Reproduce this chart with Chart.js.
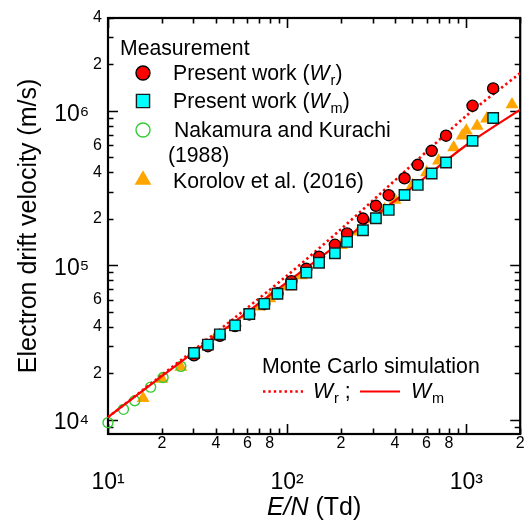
<!DOCTYPE html>
<html><head><meta charset="utf-8">
<script src="https://cdn.jsdelivr.net/npm/chart.js@4"></script>
<style>html,body{margin:0;padding:0;background:#fff}canvas{display:block}</style>
</head><body>
<canvas id="c" width="529" height="527"></canvas>
<script>
// ---- data ----
const presentEN = [30.2, 36.1, 42.1, 51.2, 61.5, 74.5, 88.3, 105.6, 128, 150.7, 184.8, 216, 265, 313, 369, 452, 536, 641, 771, 1084, 1413];
const presentWr = [2.62e4, 3.0e4, 3.5e4, 4.05e4, 4.82e4, 5.62e4, 6.6e4, 7.9e4, 9.5e4, 1.14e5, 1.36e5, 1.61e5, 2.01e5, 2.43e5, 2.85e5, 3.67e5, 4.48e5, 5.52e5, 6.92e5, 1.08e6, 1.4e6];
const presentWm = [2.71e4, 3.07e4, 3.58e4, 4.09e4, 4.85e4, 5.64e4, 6.55e4, 7.53e4, 8.98e4, 1.04e5, 1.2e5, 1.42e5, 1.69e5, 2.02e5, 2.29e5, 2.86e5, 3.32e5, 3.94e5, 4.64e5, 6.41e5, 9.0e5];
const nakamuraEN = [10, 12.2, 14.1, 17.3, 20.3, 25.5];
const nakamuraW = [9.6e3, 1.17e4, 1.33e4, 1.63e4, 1.88e4, 2.22e4];
const korolovEN = [15.7, 20, 25.5, 30.4, 35, 40, 50, 60, 70, 80, 100, 120, 150, 200, 250, 300, 350, 400, 500, 600, 700, 850, 950, 1000, 1150, 1300, 1800];
const korolovW = [1.38e4, 1.84e4, 2.2e4, 2.68e4, 3.05e4, 3.45e4, 4.1e4, 4.8e4, 5.4e4, 6.1e4, 7.3e4, 8.6e4, 1.04e5, 1.35e5, 1.65e5, 1.98e5, 2.3e5, 2.65e5, 3.3e5, 4.0e5, 4.76e5, 5.8e5, 6.9e5, 7.45e5, 8.0e5, 8.9e5, 1.1e6];
const mcEN = [10, 20, 50, 100, 200, 500, 1000, 2000];
const mcWr = [1.04e4, 1.95e4, 4.5e4, 8.6e4, 1.72e5, 4.5e5, 9.3e5, 1.76e6];
const mcWm = [1.04e4, 1.92e4, 4.25e4, 7.8e4, 1.42e5, 3.2e5, 6.0e5, 1.02e6];

// ---- axes / ticks ----
const xMin = 10, xMax = 2000, yMin = 8.1e3, yMax = 4.0e6;
const tickMultipliers = [1, 2, 3, 4, 5, 6, 7, 8, 9];
const xDecades = [10, 100, 1000];
const yDecades = [1e3, 1e4, 1e5, 1e6];
const xLabelMult = [2, 4, 6, 8];
const yLabelMult = [2, 4, 6];

const FONT = "'Liberation Sans', Arial, sans-serif";
const SUP = {'0':'\u2070','1':'\u00B9','2':'\u00B2','3':'\u00B3','4':'\u2074','5':'\u2075','6':'\u2076','7':'\u2077','8':'\u2078','9':'\u2079'};
const isDecade = v => Math.abs(Math.log10(v) - Math.round(Math.log10(v))) < 1e-9;
const mult = v => { const e = Math.floor(Math.log10(v) + 1e-9); return Math.round(v / Math.pow(10, e)); };
const decadeLabel = v => '10' + String(Math.round(Math.log10(v))).split('').map(c => SUP[c]).join('');
function buildTicks(decades, lo, hi) {
  const out = [];
  decades.forEach(d => tickMultipliers.forEach(m => { const v = m * d; if (v >= lo * 0.9999 && v <= hi * 1.0001) out.push(v); }));
  return out;
}
const xTicks = buildTicks(xDecades, xMin, xMax);
const yTicks = buildTicks(yDecades, yMin, yMax);

const pts = (xs, ys) => xs.map((x, i) => ({x, y: ys[i]}));

const RED = '#ff0000', CYAN = '#00ffff', GREEN = '#33cc33', ORANGE = '#ffa500';

const datasets = [
  {label: 'Wm', data: pts(presentEN, presentWm), showLine: false, pointStyle: 'rect', pointRadius: 7.4,
   backgroundColor: CYAN, borderColor: '#1a1a1a', borderWidth: 1.4, order: 1, clip: false},
  {label: 'Wr', data: pts(presentEN, presentWr), showLine: false, pointStyle: 'circle', pointRadius: 5.6,
   backgroundColor: RED, borderColor: '#000', borderWidth: 1.3, order: 2, clip: false},
  {label: 'MC Wm', data: pts(mcEN, mcWm), showLine: true, pointRadius: 0, borderColor: RED, borderWidth: 2.2,
   tension: 0.3, order: 3, fill: false},
  {label: 'MC Wr', data: pts(mcEN, mcWr), showLine: true, pointRadius: 0, borderColor: RED, borderWidth: 2.6,
   borderDash: [2.4, 3], tension: 0.3, order: 4, fill: false},
  {label: 'Nakamura', data: pts(nakamuraEN, nakamuraW), showLine: false, pointStyle: 'circle', pointRadius: 5,
   backgroundColor: 'rgba(0,0,0,0)', borderColor: GREEN, borderWidth: 1.4, order: 5, clip: false},
  {label: 'Korolov', data: pts(korolovEN, korolovW), showLine: false, pointStyle: 'triangle', pointRadius: 7.5,
   backgroundColor: ORANGE, borderColor: ORANGE, borderWidth: 0, order: 6, clip: false}
];

// ---- plugins: frame + inward ticks, legend, x title ----
const framePlugin = {
  id: 'frame',
  beforeDatasetsDraw(chart) {
    const {ctx, chartArea: a, scales: {x, y}} = chart;
    ctx.save();
    ctx.strokeStyle = '#000';
    ctx.lineWidth = 1.6;
    ctx.beginPath();
    x.ticks.forEach(t => {
      const p = Math.round(x.getPixelForValue(t.value)) + 0.5;
      const len = isDecade(t.value) ? 10 : 5.5;
      ctx.moveTo(p, a.bottom); ctx.lineTo(p, a.bottom - len);
      ctx.moveTo(p, a.top); ctx.lineTo(p, a.top + len);
    });
    y.ticks.forEach(t => {
      const p = Math.round(y.getPixelForValue(t.value)) + 0.5;
      const len = isDecade(t.value) ? 10 : 5.5;
      ctx.moveTo(a.left, p); ctx.lineTo(a.left + len, p);
      ctx.moveTo(a.right, p); ctx.lineTo(a.right - len, p);
    });
    ctx.stroke();
    ctx.lineWidth = 2.2;
    ctx.strokeRect(a.left, a.top, a.right - a.left, a.bottom - a.top);
    ctx.restore();
  }
};

function drawRich(ctx, x, y, parts) {
  let cx = x;
  parts.forEach(p => {
    ctx.font = p.font;
    ctx.fillText(p.t, cx, y + (p.dy || 0));
    cx += ctx.measureText(p.t).width + (p.after || 0);
  });
  return cx;
}
function richWidth(ctx, parts) {
  let w = 0;
  parts.forEach(p => { ctx.font = p.font; w += ctx.measureText(p.t).width + (p.after || 0); });
  return w;
}

const LF = 21.2;
const fN = s => `${s}px ${FONT}`;
const fI = s => `italic ${s}px ${FONT}`;

const legendPlugin = {
  id: 'customLegend',
  afterDraw(chart) {
    const {ctx} = chart;
    const H = Chart.helpers;
    const ds = chart.data.datasets;
    ctx.save();
    ctx.fillStyle = '#000';
    ctx.textAlign = 'left';
    ctx.textBaseline = 'alphabetic';
    // measurement legend
    drawRich(ctx, 120, 55, [{t: 'Measurement', font: fN(LF)}]);
    const mk = (d, x, y, r) => {
      ctx.save();
      ctx.fillStyle = d.backgroundColor; ctx.strokeStyle = d.borderColor;
      H.drawPoint(ctx, {pointStyle: d.pointStyle, radius: r, rotation: 0, borderWidth: d.borderWidth}, x, y);
      ctx.restore();
    };
    mk(ds[1], 143, 73, 7);
    ctx.fillStyle = '#000';
    drawRich(ctx, 173, 80, [{t: 'Present work (', font: fN(LF)}, {t: 'W', font: fI(LF), after: 1}, {t: 'r', font: fN(14.5), dy: 5}, {t: ')', font: fN(LF)}]);
    mk(ds[0], 143, 101, 9.3);
    ctx.fillStyle = '#000';
    drawRich(ctx, 173, 108, [{t: 'Present work (', font: fN(LF)}, {t: 'W', font: fI(LF), after: 1}, {t: 'm', font: fN(14.5), dy: 5}, {t: ')', font: fN(LF)}]);
    mk(ds[4], 143, 130, 7);
    ctx.fillStyle = '#000';
    drawRich(ctx, 174, 137, [{t: 'Nakamura and Kurachi', font: fN(LF)}]);
    drawRich(ctx, 168, 162, [{t: '(1988)', font: fN(LF)}]);
    mk(ds[5], 143, 180, 9.7);
    ctx.fillStyle = '#000';
    drawRich(ctx, 173, 188, [{t: 'Korolov et al. (2016)', font: fN(LF)}]);

    // Monte Carlo legend
    drawRich(ctx, 262, 373, [{t: 'Monte Carlo simulation', font: fN(21.3)}]);
    ctx.save();
    ctx.strokeStyle = RED;
    ctx.lineWidth = ds[3].borderWidth;
    ctx.setLineDash(ds[3].borderDash);
    ctx.beginPath(); ctx.moveTo(263, 391.5); ctx.lineTo(303, 391.5); ctx.stroke();
    ctx.setLineDash([]);
    ctx.lineWidth = ds[2].borderWidth;
    ctx.beginPath(); ctx.moveTo(360, 391.5); ctx.lineTo(400, 391.5); ctx.stroke();
    ctx.restore();
    ctx.fillStyle = '#000';
    drawRich(ctx, 313, 398, [{t: 'W', font: fI(21.3), after: 1}, {t: 'r', font: fN(14.5), dy: 5}, {t: ' ;', font: fN(21.3)}]);
    drawRich(ctx, 411, 398, [{t: 'W', font: fI(21.3), after: 1}, {t: 'm', font: fN(14.5), dy: 5}]);

    // x axis title
    const a = chart.chartArea;
    const parts = [{t: 'E/N', font: fI(25)}, {t: ' (Td)', font: fN(25)}];
    const w = richWidth(ctx, parts);
    drawRich(ctx, (a.left + a.right) / 2 - w / 2, 515, parts);
    ctx.restore();
  }
};

new Chart(document.getElementById('c'), {
  type: 'scatter',
  data: {datasets},
  options: {
    responsive: false,
    animation: false,
    devicePixelRatio: 1,
    layout: {padding: {top: 18, right: 4, left: 0, bottom: 0}},
    plugins: {legend: {display: false}, tooltip: {enabled: false}},
    elements: {line: {borderCapStyle: 'butt'}},
    scales: {
      x: {
        type: 'logarithmic', min: xMin, max: xMax, position: 'bottom',
        afterBuildTicks: s => { s.ticks = xTicks.map(v => ({value: v})); },
        afterFit: s => { s.height = 93; s.paddingLeft = 0; s.paddingRight = 0; },
        grid: {display: false, drawTicks: false}, border: {display: false},
        ticks: {
          autoSkip: false, maxRotation: 0, minRotation: 0, padding: 0, color: '#000',
          font: c => (c.tick && isDecade(c.tick.value)) ? {family: FONT, size: 23, lineHeight: 1.4} : {family: FONT, size: 16, lineHeight: 1.2},
          callback: v => isDecade(v) ? ['', decadeLabel(v)] : (xLabelMult.includes(mult(v)) ? String(mult(v)) : '')
        }
      },
      y: {
        type: 'logarithmic', min: yMin, max: yMax, position: 'left',
        afterBuildTicks: s => { s.ticks = yTicks.map(v => ({value: v})); },
        afterFit: s => { s.width = 108; s.paddingTop = 0; s.paddingBottom = 0; },
        grid: {display: false, drawTicks: false}, border: {display: false},
        title: {display: true, text: 'Electron drift velocity (m/s)', color: '#000',
                font: {family: FONT, size: 25, lineHeight: 1.2}, padding: {top: 14, bottom: 0}},
        ticks: {
          autoSkip: false, padding: 6, color: '#000',
          font: c => (c.tick && isDecade(c.tick.value)) ? {family: FONT, size: 23, lineHeight: 0.28} : {family: FONT, size: 16},
          callback: v => isDecade(v) ? ['', decadeLabel(v) + '  '] : (yLabelMult.includes(mult(v)) ? String(mult(v)) : '')
        }
      }
    }
  },
  plugins: [framePlugin, legendPlugin]
});
</script>
</body></html>
